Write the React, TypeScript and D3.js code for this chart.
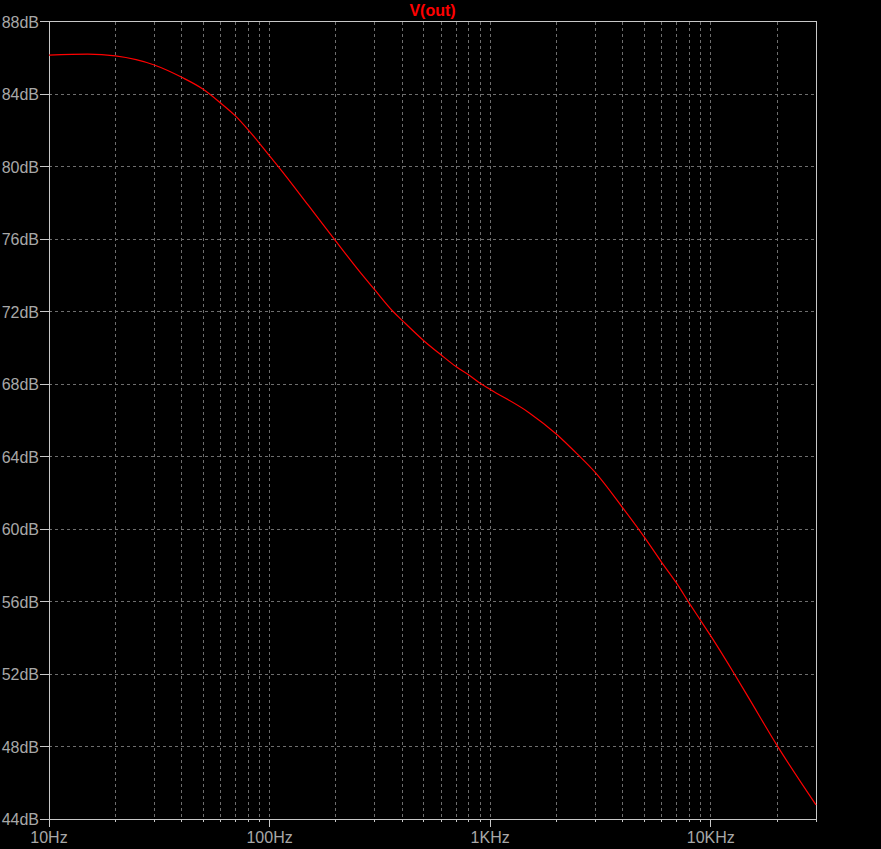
import React from "react";
import * as d3 from "d3";

const freqs = [10, 15, 20, 30, 40, 50, 60, 70, 80, 90, 100, 110, 150, 200, 256, 300, 363, 400, 500, 600, 700, 800, 900, 1000, 1500, 2000, 2500, 3000, 4000, 5000, 6000, 7000, 8000, 9000, 10000, 12800, 15000, 20000, 30000];
const vout = [86.14, 86.2, 86.1, 85.6, 84.92, 84.26, 83.5, 82.79, 82.02, 81.28, 80.58, 79.97, 77.85, 75.87, 74.2, 73.19, 72.0, 71.5, 70.39, 69.6, 68.96, 68.5, 68.04, 67.7, 66.42, 65.23, 64.1, 63.11, 61.15, 59.55, 58.15, 57.01, 55.9, 54.95, 54.1, 52.0, 50.6, 48.05, 44.78];
const yTicks = [44, 48, 52, 56, 60, 64, 68, 72, 76, 80, 84, 88];
const xMajor = [10, 100, 1000, 10000];
const xMajorLabels = ["10Hz", "100Hz", "1KHz", "10KHz"];
const title = "V(out)";

const W = 881, H = 849;
const L = 49, R = 816, T = 21.5, B = 819;

export default function App() {
  const x = d3.scaleLog().domain([10, 30000]).range([L, R]);
  const y = d3.scaleLinear().domain([44, 88]).range([B, T]);
  const minor: number[] = [];
  for (let dec = 10; dec <= 10000; dec *= 10) {
    for (let m = 1; m <= 9; m++) {
      const f = dec * m;
      if (f > 10 && f <= 30000) minor.push(f);
    }
  }
  const line = d3
    .line<number>()
    .x((_, i) => x(freqs[i]))
    .y((d) => y(d))
    .curve(d3.curveMonotoneX);
  const font = "'Liberation Sans', Arial, sans-serif";
  const grid = "#6e6e6e";
  const axis = "#c8c8c8";
  const txt = "#a8a8a8";
  return (
    <svg width={W} height={H} style={{ position: "fixed", left: 0, top: 0, background: "#000" }}>
      <rect x={0} y={0} width={W} height={H} fill="#000" />
      {minor.map((f) => (
        <line key={"v" + f} x1={x(f)} x2={x(f)} y1={T} y2={B} stroke={grid} strokeWidth={1} strokeDasharray="3 3" shapeRendering="crispEdges" />
      ))}
      {yTicks.slice(1, -1).map((v) => (
        <line key={"h" + v} x1={L} x2={R} y1={y(v)} y2={y(v)} stroke={grid} strokeWidth={1} strokeDasharray="3 3" shapeRendering="crispEdges" />
      ))}
      <rect x={L} y={T} width={R - L} height={B - T} fill="none" stroke={axis} strokeWidth={1} shapeRendering="crispEdges" />
      {minor.map((f) => (
        <line key={"t" + f} x1={x(f)} x2={x(f)} y1={B} y2={B + (xMajor.includes(f) ? 8 : 3)} stroke={axis} shapeRendering="crispEdges" />
      ))}
      <line x1={L} x2={L} y1={B} y2={B + 8} stroke={axis} shapeRendering="crispEdges" />
      {yTicks.map((v) => (
        <g key={"yt" + v}>
          <line x1={L - 9} x2={L} y1={y(v)} y2={y(v)} stroke={axis} shapeRendering="crispEdges" />
          <text x={L - 10} y={y(v) + 6} textAnchor="end" fill={txt} fontFamily={font} fontSize={16}>
            {v}dB
          </text>
        </g>
      ))}
      {xMajor.map((f, i) => (
        <text key={"xl" + f} x={x(f)} y={842.5} textAnchor="middle" fill={txt} fontFamily={font} fontSize={16}>
          {xMajorLabels[i]}
        </text>
      ))}
      <text x={(L + R) / 2} y={16} textAnchor="middle" fill="#ff0000" fontFamily={font} fontSize={16} fontWeight="bold">
        {title}
      </text>
      <path d={line(vout) || ""} fill="none" stroke="#ff0000" strokeWidth={1.2} />
    </svg>
  );
}
